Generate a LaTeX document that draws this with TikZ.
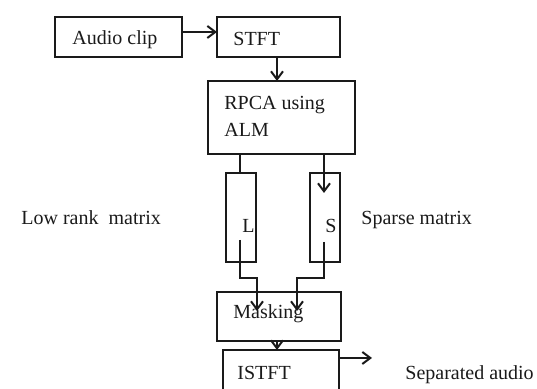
\documentclass[tikz,border=0pt]{standalone}
\usepackage{fontspec}
\setmainfont{Liberation Serif}
\usetikzlibrary{arrows.meta}
\definecolor{ink}{HTML}{1A1A1A}
\begin{document}
\begin{tikzpicture}[x=0.5pt,y=-0.5pt,
  box/.style={draw=ink,line width=1pt,inner sep=0pt,outer sep=0pt},
  txt/.style={inner sep=0pt,anchor=base west,text=ink,font=\fontsize{10pt}{12pt}\selectfont},
  link/.style={draw=ink,line width=1pt},
  arr/.style={link,-{Straight Barb[length=4pt,width=6pt,line width=1pt]}}]
\useasboundingbox (0,0) rectangle (537,389);
\clip (0,0) rectangle (537,389);
% processing blocks
\node[box,minimum width=63.5pt,minimum height=20pt] (audio) at (118.5,37) {};
\node[box,minimum width=61.5pt,minimum height=20pt] (stft) at (278.5,37) {};
\node[box,minimum width=73.5pt,minimum height=36.5pt] (rpca) at (281.5,117.5) {};
\node[box,minimum width=15pt,minimum height=44.5pt] (lbox) at (241,217.5) {};
\node[box,minimum width=15pt,minimum height=44.5pt] (sbox) at (324.5,217.5) {};
\node[box,minimum width=62pt,minimum height=24.5pt] (mask) at (279,316.5) {};
\node[box,minimum width=58pt,minimum height=25pt] (istft) at (281,375) {};
% texts
\node[txt] (taudio) at (72,45) {Audio clip};
\node[txt] (tstft) at (233,45.5) {STFT};
\node[txt] (trpca) at (224,110) {RPCA using};
\node[txt] (talm) at (224,137) {ALM};
\node[txt] (tl) at (242,233) {L};
\node[txt] (ts) at (325,233) {S};
\node[txt] (tmask) at (233,319) {Masking};
\node[txt] (tistft) at (237,380) {ISTFT};
\node[txt] (tlow) at (21,225) {Low rank\ \ matrix};
\node[txt] (tsparse) at (361,225) {Sparse matrix};
\node[txt] (tout) at (405,380) {Separated audio};
% helper points
\coordinate (sin) at (324,193);
\coordinate (lstart) at (240,240);
\coordinate (sstart) at (324,242);
\coordinate (lend) at (257,311);
\coordinate (send) at (297,311);
\coordinate (out) at (372,358);
% connectors
\draw[arr] ([yshift=2.5pt]audio.east) -- ([yshift=2.5pt]stft.west);
\draw[arr] (stft.south -| 277,0) -- (rpca.north -| 277,0);
\draw[link] (rpca.south -| 240,0) -- (lbox.north -| 240,0);
\draw[arr] (rpca.south -| sin) -- (sin);
\draw[arr] (lstart) |- (257,278) -- (lend);
\draw[arr] (sstart) |- (297,278) -- (send);
\draw[arr] (mask.south -| 277,0) -- (istft.north -| 277,0);
\draw[arr] (istft.east |- out) -- (out);
\end{tikzpicture}
\end{document}
